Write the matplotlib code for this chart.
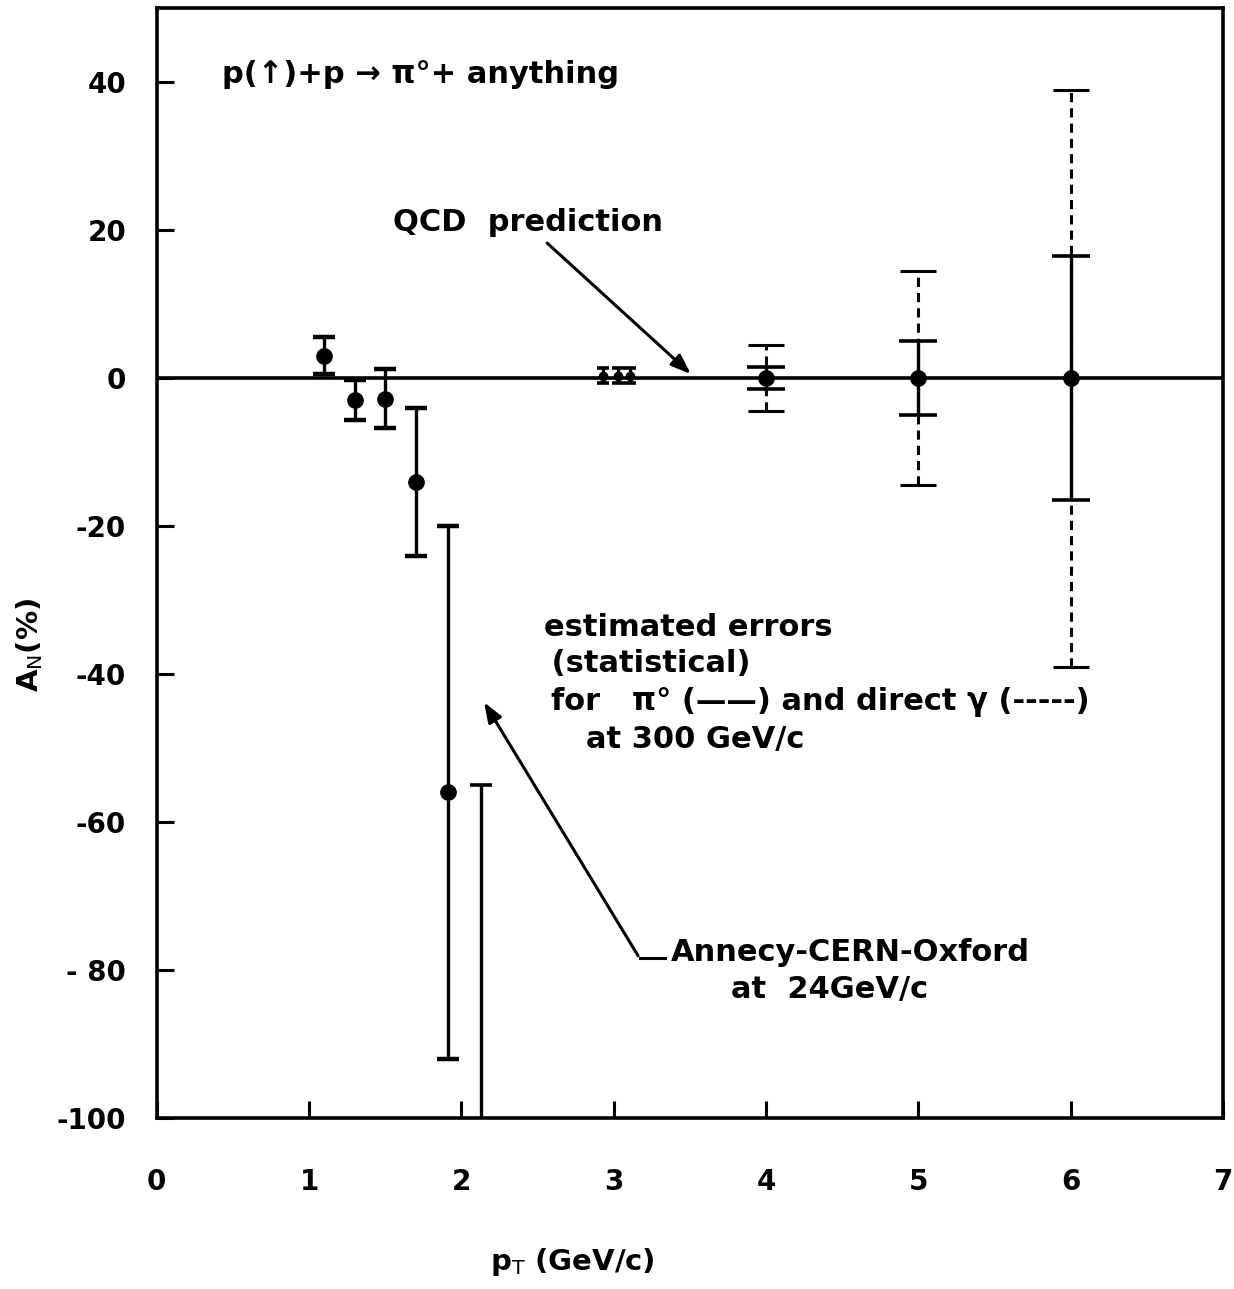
import matplotlib
matplotlib.use("Agg")
import matplotlib.pyplot as plt

# p(up)+p -> pi0 + anything : analysing power A_N versus p_T
# Annecy-CERN-Oxford measurements at 24 GeV/c
aco_pt = [1.10, 1.30, 1.50, 1.70, 1.91]
aco_an = [3.0, -3.0, -2.8, -14.0, -56.0]
aco_err = [2.5, 2.7, 4.0, 10.0, 36.0]

# last point whose centre lies below the plotted range
low_pt = [2.13]
low_an = [-110.0]
low_err = [55.0]

# cluster of small points near p_T = 3
cl_pt = [2.93, 3.03, 3.11]
cl_an = [0.3, 0.3, 0.3]
cl_err = [1.0, 1.0, 1.0]

# estimated statistical errors at 300 GeV/c
est_pt = [4.0, 5.0, 6.0]
est_an = [0.0, 0.0, 0.0]
est_err_pi0 = [1.5, 5.0, 16.5]      # pi0 (solid)
est_err_gamma = [4.5, 14.5, 39.0]   # direct gamma (dashed)

qcd_level = 0.0

x_ticks = [0, 1, 2, 3, 4, 5, 6, 7]
y_ticks = [40, 20, 0, -20, -40, -60, -80, -100]
y_tick_labels = ["40", "20", "0", "-20", "-40", "-60", "- 80", "-100"]

plt.rcParams["font.family"] = ["DejaVu Sans"]

fig = plt.figure(figsize=(12.34, 12.89), dpi=100)
ax = fig.add_axes([0.127, 0.1327, 0.864, 0.861])

# QCD prediction line
ax.axhline(qcd_level, color="black", lw=2.6, zorder=2)

# direct gamma errors (dashed)
eb = ax.errorbar(est_pt, est_an, yerr=est_err_gamma, fmt="none", ecolor="black",
                 elinewidth=2.2, capsize=13, capthick=2.2, zorder=3)
eb[2][0].set_linestyle((0, (3, 2)))

# pi0 errors (solid)
ax.errorbar(est_pt, est_an, yerr=est_err_pi0, fmt="o", color="black",
            markersize=11, elinewidth=2.4, capsize=14, capthick=2.6, zorder=4)

# Annecy-CERN-Oxford data
ax.errorbar(aco_pt, aco_an, yerr=aco_err, fmt="o", color="black",
            markersize=11, elinewidth=2.4, capsize=8, capthick=3.2, zorder=4)
ax.errorbar(low_pt, low_an, yerr=low_err, fmt="none", ecolor="black",
            elinewidth=2.4, capsize=8, capthick=2.6, zorder=4)
ax.errorbar(cl_pt, cl_an, yerr=cl_err, fmt="o", color="black",
            markersize=6, elinewidth=2.4, capsize=4, capthick=2.6, zorder=4)

ax.set_xlim(0, 7)
ax.set_ylim(-100, 50)
ax.set_xticks(x_ticks)
ax.set_yticks(y_ticks)
ax.set_yticklabels(y_tick_labels)

ax.tick_params(axis="both", direction="in", length=12, width=2.2,
               labelsize=20)
ax.tick_params(axis="x", pad=36)
ax.tick_params(axis="y", pad=22)
for lab in ax.get_xticklabels() + ax.get_yticklabels():
    lab.set_fontweight("bold")
for sp in ax.spines.values():
    sp.set_linewidth(2.6)

ax.set_xlabel(r"p$_{\rm T}$ (GeV/c)", fontsize=21, fontweight="bold")
ax.xaxis.set_label_coords(0.39, -0.115)
ax.set_ylabel(r"A$_{\rm N}$(%)", fontsize=21, fontweight="bold")
ax.yaxis.set_label_coords(-0.105, 0.426)

txt = dict(fontsize=22, fontweight="bold", color="black", ha="left", va="center")
ax.text(0.43, 41.0, "p(\u2191)+p \u2192 \u03c0\u00b0+ anything", **txt)
ax.text(1.55, 21.0, "QCD  prediction", **txt)
ax.annotate("", xy=(3.52, 0.3), xytext=(2.55, 18.5),
            arrowprops=dict(arrowstyle="-|>,head_length=1.2,head_width=0.45",
                            color="black", lw=2.2))

ax.text(2.54, -33.7, "estimated errors", **txt)
ax.text(2.52, -38.6, " (statistical)", **txt)
ax.text(2.59, -43.8, "for   \u03c0\u00b0 (\u2014\u2014) and direct \u03b3 (-----)", **txt)
ax.text(2.82, -48.8, "at 300 GeV/c", **txt)

ax.annotate("", xy=(2.14, -43.5), xytext=(3.17, -78.4),
            arrowprops=dict(arrowstyle="-|>,head_length=1.2,head_width=0.45",
                            color="black", lw=2.2))
ax.plot([3.17, 3.34], [-78.4, -78.4], color="black", lw=2.2)
ax.text(3.375, -77.6, "Annecy-CERN-Oxford", **txt)
ax.text(3.77, -82.7, "at  24GeV/c", **txt)

fig.savefig("out.png", dpi=100, facecolor="white")
